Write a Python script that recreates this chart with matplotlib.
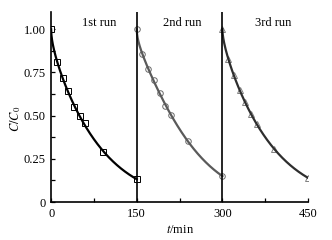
"""C/C0 vs time for three consecutive runs."""

import matplotlib
import matplotlib.pyplot as plt
import numpy as np
from matplotlib.ticker import MultipleLocator

matplotlib.use("Agg")

plt.rcParams["font.family"] = ["Liberation Serif", "DejaVu Serif"]
plt.rcParams["mathtext.fontset"] = "stix"

# sampling times within each run (min) and the start time of each run
t_run = [0, 10, 20, 30, 40, 50, 60, 90, 150]
run_starts = [0, 150, 300]
run_labels = ["1st run", "2nd run", "3rd run"]

c_run1 = [1.00, 0.81, 0.72, 0.643, 0.551, 0.499, 0.455, 0.291, 0.133]
c_run2 = [1.00, 0.855, 0.77, 0.705, 0.632, 0.555, 0.505, 0.351, 0.150]
c_run3 = [1.00, 0.827, 0.738, 0.647, 0.578, 0.509, 0.451, 0.31, 0.14]

runs = [c_run1, c_run2, c_run3]
line_colors = ["black", "#5a5a5a", "#2e2e2e"]
edge_colors = ["black", "#6a6a6a", "#808080"]
markers = ["s", "o", "^"]
label_x = [85, 229, 388]


def fit_curve(t, c, num=300):
    # least-squares fit of ln C on sqrt(t), t, t^1.5 (passes through C=1 at t=0)
    t = np.asarray(t, float)
    lc = np.log(np.asarray(c, float))
    basis = lambda x: np.column_stack([np.sqrt(x), x, x**1.5])
    coef, *_ = np.linalg.lstsq(basis(t), lc, rcond=None)
    tt = np.linspace(0, t.max(), num)
    return tt, np.exp(basis(tt) @ coef)


fig = plt.figure(figsize=(3.32, 2.40), dpi=100)
ax = fig.add_axes([0.154, 0.158, 0.774, 0.792])

for start, c, lc, ec, m, lab, lx in zip(run_starts, runs, line_colors,
                                        edge_colors, markers, run_labels, label_x):
    t_abs = [start + t for t in t_run]
    ax.plot(t_abs, c, linestyle="none", marker=m, markersize=4,
            markerfacecolor="white", markeredgecolor=ec, markeredgewidth=0.7,
            zorder=2)
    tt, cc = fit_curve(t_run, c)
    ax.plot(start + tt, cc, color=lc, linewidth=1.6, zorder=3)
    ax.text(lx, 1.035, lab, ha="center", va="center", fontsize=9)

for xv in run_starts[1:]:
    ax.plot([xv, xv], [0, 1.1], color="black", linewidth=1.2, zorder=4)

ax.set_xlim(0, 450)
ax.set_ylim(0, 1.1)
ax.xaxis.set_major_locator(MultipleLocator(150))
ax.xaxis.set_minor_locator(MultipleLocator(75))
ax.yaxis.set_minor_locator(MultipleLocator(0.125))
ax.set_yticks([0, 0.25, 0.5, 0.75, 1.0])
ax.set_yticklabels(["0", "0.25", "0.50", "0.75", "1.00"])

ax.spines["top"].set_visible(False)
ax.spines["right"].set_visible(False)
for s in ("left", "bottom"):
    ax.spines[s].set_linewidth(1.2)
ax.tick_params(which="both", direction="in", length=3, width=0.9,
               labelsize=9, pad=4)

ax.set_xlabel(r"$t$/min", fontsize=9, labelpad=3)
ax.set_ylabel(r"$C/C_0$", fontsize=9)
ax.yaxis.set_label_coords(-0.11, 0.44)

fig.savefig("out.png", dpi=100)
plt.close(fig)
